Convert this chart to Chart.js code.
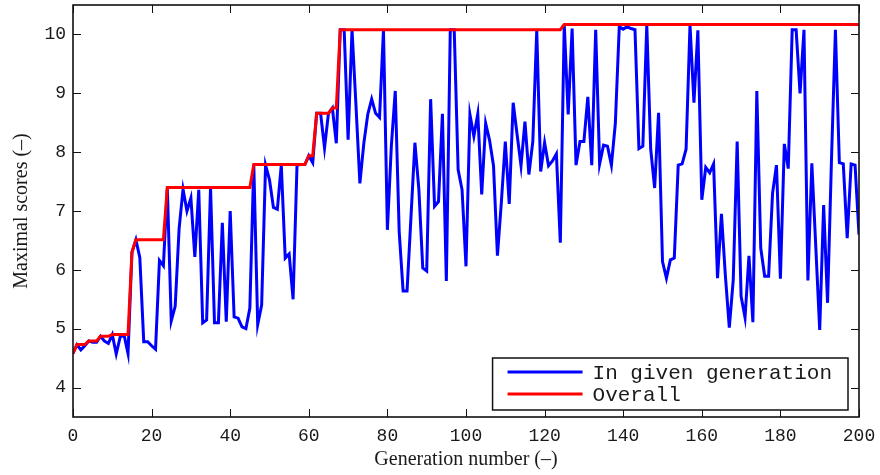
<!DOCTYPE html>
<html>
<head>
<meta charset="utf-8">
<script src="https://cdn.jsdelivr.net/npm/chart.js@4/dist/chart.umd.min.js"></script>
<style>
  html, body { margin: 0; padding: 0; background: #ffffff; }
  #wrap { width: 880px; height: 475px; position: relative; }
</style>
</head>
<body>
<div id="wrap"><canvas id="c" width="880" height="475"></canvas></div>
<script>
// Best score found in each generation (generation 0 .. 200)
const scoreInGeneration = [
  4.58, 4.73, 4.64, 4.71, 4.79, 4.77, 4.77, 4.87, 4.79, 4.75,
  4.90, 4.57, 4.86, 4.89, 4.58, 6.30, 6.51, 6.21, 4.78, 4.78,
  4.71, 4.65, 6.16, 6.07, 7.40, 5.13, 5.38, 6.70, 7.37, 7.00,
  7.22, 6.22, 7.36, 5.10, 5.15, 7.40, 5.10, 5.10, 6.80, 5.12,
  7.00, 5.20, 5.18, 5.03, 5.00, 5.35, 7.79, 5.07, 5.40, 7.78,
  7.53, 7.06, 7.03, 7.78, 6.20, 6.27, 5.50, 7.78, 7.79, 7.79,
  7.94, 7.82, 8.66, 8.66, 8.07, 8.66, 8.75, 8.15, 10.08, 10.08,
  8.21, 10.08, 8.80, 7.47, 8.15, 8.64, 8.90, 8.66, 8.59, 10.08,
  6.68, 8.10, 9.04, 6.65, 5.64, 5.64, 6.90, 8.16, 7.37, 6.03,
  5.98, 8.90, 7.08, 7.16, 8.65, 5.81, 10.08, 10.08, 7.70, 7.36,
  6.06, 8.64, 8.27, 8.65, 7.28, 8.49, 8.20, 7.77, 6.24, 7.15,
  8.18, 7.12, 8.84, 8.30, 7.77, 8.52, 7.62, 8.18, 10.07, 7.67,
  8.16, 7.77, 7.85, 7.97, 6.46, 10.17, 8.64, 10.10, 7.78, 8.18,
  8.18, 8.94, 7.78, 10.08, 7.80, 8.12, 8.10, 7.78, 8.49, 10.13,
  10.09, 10.13, 10.10, 10.08, 8.06, 8.10, 10.16, 8.05, 7.39, 8.67,
  6.14, 5.86, 6.17, 6.20, 7.78, 7.80, 8.05, 10.16, 8.84, 10.07,
  7.19, 7.74, 7.65, 7.80, 5.86, 6.95, 5.90, 5.02, 5.83, 8.18,
  5.55, 5.19, 6.24, 5.11, 9.04, 6.37, 5.89, 5.89, 7.30, 7.78,
  5.85, 8.14, 7.72, 10.08, 10.08, 9.00, 10.08, 5.82, 7.81, 6.40,
  4.98, 7.10, 5.44, 7.88, 10.08, 7.82, 7.80, 6.54, 7.80, 7.78,
  6.60
];

// Best score found so far (generation 0 .. 200)
const scoreOverall = [
  4.58, 4.73, 4.73, 4.73, 4.79, 4.79, 4.79, 4.87, 4.87, 4.87,
  4.90, 4.90, 4.90, 4.90, 4.90, 6.30, 6.51, 6.51, 6.51, 6.51,
  6.51, 6.51, 6.51, 6.51, 7.40, 7.40, 7.40, 7.40, 7.40, 7.40,
  7.40, 7.40, 7.40, 7.40, 7.40, 7.40, 7.40, 7.40, 7.40, 7.40,
  7.40, 7.40, 7.40, 7.40, 7.40, 7.40, 7.79, 7.79, 7.79, 7.79,
  7.79, 7.79, 7.79, 7.79, 7.79, 7.79, 7.79, 7.79, 7.79, 7.79,
  7.94, 7.94, 8.66, 8.66, 8.66, 8.66, 8.75, 8.75, 10.08, 10.08,
  10.08, 10.08, 10.08, 10.08, 10.08, 10.08, 10.08, 10.08, 10.08, 10.08,
  10.08, 10.08, 10.08, 10.08, 10.08, 10.08, 10.08, 10.08, 10.08, 10.08,
  10.08, 10.08, 10.08, 10.08, 10.08, 10.08, 10.08, 10.08, 10.08, 10.08,
  10.08, 10.08, 10.08, 10.08, 10.08, 10.08, 10.08, 10.08, 10.08, 10.08,
  10.08, 10.08, 10.08, 10.08, 10.08, 10.08, 10.08, 10.08, 10.08, 10.08,
  10.08, 10.08, 10.08, 10.08, 10.08, 10.17, 10.17, 10.17, 10.17, 10.17,
  10.17, 10.17, 10.17, 10.17, 10.17, 10.17, 10.17, 10.17, 10.17, 10.17,
  10.17, 10.17, 10.17, 10.17, 10.17, 10.17, 10.17, 10.17, 10.17, 10.17,
  10.17, 10.17, 10.17, 10.17, 10.17, 10.17, 10.17, 10.17, 10.17, 10.17,
  10.17, 10.17, 10.17, 10.17, 10.17, 10.17, 10.17, 10.17, 10.17, 10.17,
  10.17, 10.17, 10.17, 10.17, 10.17, 10.17, 10.17, 10.17, 10.17, 10.17,
  10.17, 10.17, 10.17, 10.17, 10.17, 10.17, 10.17, 10.17, 10.17, 10.17,
  10.17, 10.17, 10.17, 10.17, 10.17, 10.17, 10.17, 10.17, 10.17, 10.17,
  10.17
];

const xTickValues = [0, 20, 40, 60, 80, 100, 120, 140, 160, 180, 200];
const yTickValues = [4, 5, 6, 7, 8, 9, 10];
const seriesLabels = ['In given generation', 'Overall'];

const TEXT = '#1a1a1a';
const MONO = "'Liberation Mono', 'DejaVu Sans Mono', monospace";
const SERIF = "'Liberation Serif', 'DejaVu Serif', serif";

const toPoints = arr => arr.map((v, i) => ({ x: i, y: v }));

// Box around the plot area with tick marks pointing inward on all four sides
const frameTicks = {
  id: 'frameTicks',
  afterDatasetsDraw(chart) {
    const { ctx, chartArea: a, scales } = chart;
    ctx.save();
    ctx.strokeStyle = '#111';
    ctx.lineWidth = 1;
    const len = 8;
    ctx.beginPath();
    xTickValues.forEach(v => {
      const px = Math.round(scales.x.getPixelForValue(v)) + 0.5;
      ctx.moveTo(px, a.bottom); ctx.lineTo(px, a.bottom - len);
      ctx.moveTo(px, a.top); ctx.lineTo(px, a.top + len);
    });
    yTickValues.forEach(v => {
      const py = Math.round(scales.y.getPixelForValue(v)) + 0.5;
      ctx.moveTo(a.left, py); ctx.lineTo(a.left + len, py);
      ctx.moveTo(a.right, py); ctx.lineTo(a.right - len, py);
    });
    ctx.stroke();
    ctx.lineWidth = 1.6;
    ctx.strokeRect(a.left, a.top, a.right - a.left, a.bottom - a.top);
    ctx.restore();
  }
};

// Boxed legend in the lower right corner of the plot area
const boxedLegend = {
  id: 'boxedLegend',
  afterDraw(chart) {
    const { ctx, chartArea: a } = chart;
    const ds = chart.data.datasets;
    ctx.save();
    ctx.font = '21px ' + MONO;
    const textW = Math.max(...seriesLabels.map(t => ctx.measureText(t).width));
    const padL = 15, sample = 75, gap = 10, padR = 16;
    const w = padL + sample + gap + textW + padR;
    const h = 52;
    const right = a.right - 11, bottom = a.bottom - 7;
    const left = right - w, top = bottom - h;
    ctx.fillStyle = '#ffffff';
    ctx.fillRect(left, top, w, h);
    ctx.strokeStyle = '#111';
    ctx.lineWidth = 1.5;
    ctx.strokeRect(left, top, w, h);
    const rows = [top + 14, top + 36];
    [0, 1].forEach(i => {
      ctx.strokeStyle = ds[i].borderColor;
      ctx.lineWidth = ds[i].borderWidth;
      ctx.beginPath();
      ctx.moveTo(left + padL, rows[i]);
      ctx.lineTo(left + padL + sample, rows[i]);
      ctx.stroke();
      ctx.fillStyle = TEXT;
      ctx.textBaseline = 'middle';
      ctx.textAlign = 'left';
      ctx.fillText(ds[i].label, left + padL + sample + gap, rows[i] + 1);
    });
    ctx.restore();
  }
};

new Chart(document.getElementById('c'), {
  type: 'line',
  data: {
    datasets: [
      {
        label: seriesLabels[0],
        data: toPoints(scoreInGeneration),
        borderColor: '#0000ff',
        borderWidth: 3,
        pointRadius: 0,
        tension: 0,
        order: 1
      },
      {
        label: seriesLabels[1],
        data: toPoints(scoreOverall),
        borderColor: '#ff0000',
        borderWidth: 3,
        pointRadius: 0,
        tension: 0,
        order: 0
      }
    ]
  },
  options: {
    responsive: false,
    animation: false,
    devicePixelRatio: 1,
    layout: { padding: { top: 5, right: 21, left: 0, bottom: 0 } },
    plugins: {
      legend: { display: false },
      tooltip: { enabled: false }
    },
    scales: {
      x: {
        type: 'linear',
        min: 0,
        max: 200,
        afterBuildTicks: s => { s.ticks = xTickValues.map(v => ({ value: v })); },
        afterFit: s => { s.height = 58; s.paddingLeft = 0; s.paddingRight = 0; },
        grid: { display: false, drawTicks: false },
        border: { display: false },
        ticks: {
          font: { family: MONO, size: 18 },
          color: TEXT,
          padding: 8,
          maxRotation: 0
        },
        title: {
          display: true,
          text: 'Generation number (–)',
          font: { family: SERIF, size: 20 },
          color: TEXT,
          padding: { top: 0, bottom: 3 }
        }
      },
      y: {
        type: 'linear',
        min: 3.5,
        max: 10.5,
        afterBuildTicks: s => { s.ticks = yTickValues.map(v => ({ value: v })); },
        afterFit: s => { s.width = 73; s.paddingTop = 0; s.paddingBottom = 0; },
        grid: { display: false, drawTicks: false },
        border: { display: false },
        ticks: {
          font: { family: MONO, size: 18 },
          color: TEXT,
          padding: 7
        },
        title: {
          display: true,
          text: 'Maximal scores (–)',
          font: { family: SERIF, size: 20 },
          color: TEXT,
          padding: { top: 10, bottom: 0 }
        }
      }
    }
  },
  plugins: [frameTicks, boxedLegend]
});
</script>
</body>
</html>
